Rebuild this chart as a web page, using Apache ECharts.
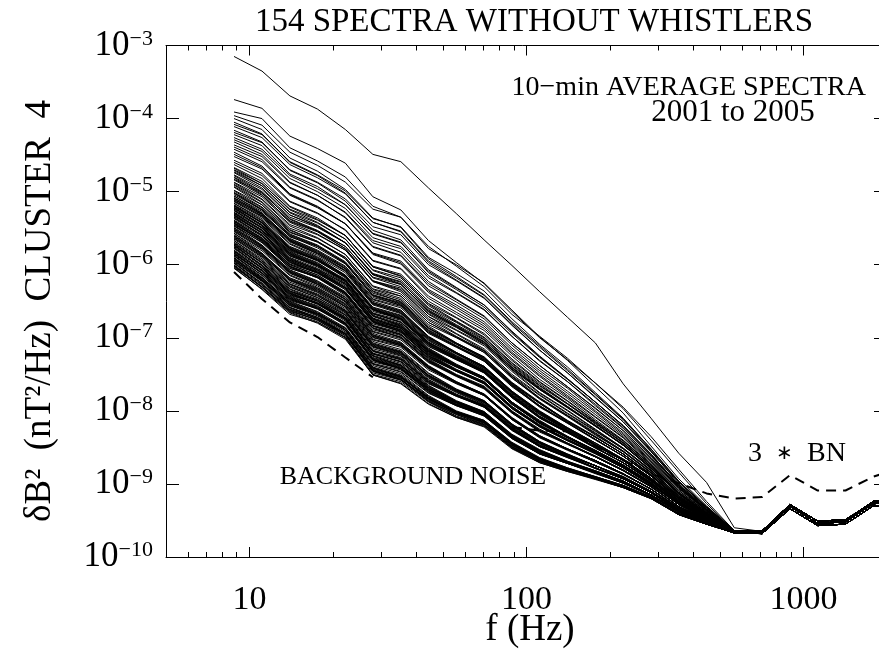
<!DOCTYPE html>
<html><head><meta charset="utf-8">
<script src="https://cdn.jsdelivr.net/npm/echarts@6/dist/echarts.min.js"></script>
<style>html,body{margin:0;padding:0;background:#fff}#c{width:879px;height:649px}</style>
</head><body><div id="c"></div><script>
const SERIF = '"Liberation Serif","Times New Roman",serif';

// third-octave frequencies (Hz)
const freqs = [8.8,11.1,14.0,17.6,22.2,27.9,35.2,44.3,55.8,70.3,88.6,111.6,140.6,177.2,223.3,281.3,354.4,446.5,562.5,708.7,893,1125,1417,1786,2250];
const majorX = [10,100,1000];
const minorX = [6,7,8,9,20,30,40,50,60,70,80,90,200,300,400,500,600,700,800,900];

// Spectra: each value = -100*log10(dB^2 in nT^2/Hz) at freqs[0..18]
const spectraTop = [
[315,335,369,387,415,449,459,495,530,566,601,637,672,707,763,810,858,898,960],
[374,386,424,441,461,507,525,567,597,626,664,700,730,762,795,835,880,924,964],
[391,400,440,458,480,520,535,575,602,630,668,698,728,762,797,840,884,927,964]
];
const spectraUpper = [
[463,482,520,536,560,603,615,654,677,699,734,763,790,816,843,876,912,939,965],
[460,478,514,530,552,594,605,643,665,687,722,753,781,809,837,872,909,938,965],
[457,475,513,529,553,595,606,646,668,690,725,757,783,812,840,873,911,938,965],
[452,469,505,522,544,584,595,634,655,678,714,745,773,802,832,868,905,936,965],
[449,467,504,521,544,585,597,636,658,681,717,748,776,805,834,869,907,937,965],
[446,465,503,520,544,586,599,638,661,684,720,751,779,808,836,870,909,938,965],
[442,459,495,512,535,575,587,626,648,671,707,738,767,797,827,865,904,936,965],
[439,456,494,511,536,576,588,629,651,674,710,742,769,800,830,866,906,936,965],
[436,452,488,505,528,567,578,618,639,662,698,732,760,793,824,862,903,935,965],
[432,449,487,505,529,570,583,623,647,670,707,738,767,796,827,864,905,936,964],
[429,445,482,500,523,563,575,615,638,661,698,731,760,791,823,861,903,935,964],
[426,442,478,496,518,558,570,609,632,655,692,726,756,788,820,859,902,935,964],
[422,437,476,493,518,557,569,611,634,658,694,727,757,788,821,860,901,933,964],
[419,433,470,487,510,548,559,600,622,646,682,717,748,781,815,856,898,932,964],
[416,432,471,488,513,553,566,607,631,655,691,725,756,788,820,859,902,934,964],
[411,426,463,481,503,542,554,595,618,642,680,713,745,778,812,854,897,932,964],
[408,422,459,477,499,537,548,590,612,636,674,709,740,775,810,852,896,931,964],
[405,421,460,478,502,542,555,597,621,645,683,717,748,782,815,855,900,933,964],
[400,415,454,472,497,536,549,592,616,641,678,711,743,777,811,852,897,932,964],
[396,409,446,464,487,524,535,578,600,625,662,699,731,767,803,848,893,930,964]
];
const spectraMid = [
[504,525,560,575,597,641,652,687,708,727,762,789,814,836,859,888,920,943,966],
[506,527,561,577,599,642,654,689,709,728,763,790,815,836,859,888,920,943,966],
[502,524,558,573,596,639,650,686,707,726,761,788,814,836,859,888,920,943,966],
[501,522,559,574,598,642,653,690,711,730,765,793,816,839,862,889,922,943,966],
[502,525,562,575,598,643,656,693,712,732,767,794,817,840,862,889,922,943,966],
[498,518,553,568,590,633,643,679,699,718,753,783,807,832,856,885,919,942,966],
[499,521,556,569,590,634,646,682,700,720,755,784,808,833,856,885,919,942,966],
[493,515,552,568,592,636,648,684,707,727,762,789,813,835,859,887,920,943,965],
[494,518,555,569,592,637,651,687,708,729,764,790,814,836,859,887,920,943,965],
[490,511,547,563,586,629,640,676,698,718,753,782,806,830,855,884,918,942,965],
[491,514,550,564,586,630,643,679,699,720,755,783,807,831,855,884,918,942,965],
[487,507,542,558,580,622,632,668,689,709,744,775,799,825,851,881,916,941,965],
[488,510,545,559,580,623,635,671,690,711,746,776,800,826,851,881,916,941,965],
[483,502,537,553,575,617,627,664,685,706,741,770,795,820,847,879,913,940,965],
[484,505,540,554,575,618,630,667,686,708,743,771,796,821,847,879,913,940,965],
[480,501,538,554,578,622,634,671,694,715,750,778,803,827,852,882,917,942,965],
[481,504,541,555,578,623,637,674,695,717,752,779,804,828,852,882,917,942,965],
[477,497,532,548,570,613,624,660,682,703,738,768,794,820,846,878,914,941,965],
[478,500,535,549,570,614,627,663,683,705,740,769,795,821,846,878,914,941,965],
[473,492,529,546,570,612,623,662,684,706,741,770,794,820,847,878,914,940,965],
[474,495,532,547,570,613,626,665,685,708,743,771,795,821,847,878,914,940,965],
[470,489,525,542,565,607,618,656,678,700,735,765,790,817,844,876,913,940,965],
[471,492,528,543,565,608,621,659,679,702,737,766,791,818,844,876,913,940,965],
[467,486,521,538,560,602,613,650,672,694,729,760,786,814,841,874,912,940,965],
[468,489,524,539,560,603,616,653,673,696,731,761,787,815,841,874,912,940,965]
];
const spectraCore = [
[545,567,602,616,638,683,693,725,745,761,795,820,839,857,877,901,928,947,966],
[547,569,603,618,640,684,695,727,746,762,796,821,840,857,877,901,928,947,966],
[543,566,600,614,637,681,691,724,744,760,794,819,839,857,877,901,928,947,966],
[546,570,605,617,638,684,696,728,746,763,797,821,840,858,877,901,928,947,966],
[542,565,602,616,640,686,697,730,751,767,801,826,844,862,881,903,931,948,966],
[544,567,603,618,642,687,699,732,752,768,802,827,845,862,881,903,931,948,966],
[540,564,600,614,639,684,695,729,750,766,800,825,844,862,881,903,931,948,966],
[543,568,605,617,640,687,700,733,752,769,803,827,845,863,881,903,931,948,966],
[539,561,596,610,632,677,687,719,739,755,789,816,835,855,875,899,928,947,966],
[541,563,597,612,634,678,689,721,740,756,790,817,836,855,875,899,928,947,966],
[537,560,594,608,631,675,685,718,738,754,788,815,835,855,875,899,928,947,966],
[540,564,599,611,632,678,690,722,740,757,791,817,836,856,875,899,928,947,966],
[534,557,594,609,632,678,689,723,744,761,795,821,840,858,878,901,928,947,966],
[536,559,595,611,634,679,691,725,745,762,796,822,841,858,878,901,928,947,966],
[532,556,592,607,631,676,687,722,743,760,794,820,840,858,878,901,928,947,966],
[535,560,597,610,632,679,692,726,745,763,797,822,841,859,878,901,928,947,966],
[531,554,590,605,627,673,684,717,738,755,789,816,836,855,875,899,927,947,966],
[533,556,591,607,629,674,686,719,739,756,790,817,837,855,875,899,927,947,966],
[529,553,588,603,626,671,682,716,737,754,788,815,836,855,875,899,927,947,966],
[532,557,593,606,627,674,687,720,739,757,791,817,837,856,875,899,927,947,966],
[528,550,585,600,621,666,676,709,729,746,780,809,829,850,871,896,925,946,966],
[530,552,586,602,623,667,678,711,730,747,781,810,830,850,871,896,925,946,966],
[526,549,583,598,620,664,674,708,728,745,779,808,829,850,871,896,925,946,966],
[529,553,588,601,621,667,679,712,730,748,782,810,830,851,871,896,925,946,966],
[524,547,584,599,623,669,681,715,737,755,789,814,835,854,874,898,927,947,966],
[526,549,585,601,625,670,683,717,738,756,790,815,836,854,874,898,927,947,966],
[522,546,582,597,622,667,679,714,736,754,788,813,835,854,874,898,927,947,966],
[525,550,587,600,623,670,684,718,738,757,791,815,836,855,874,898,927,947,966],
[521,543,578,593,615,660,671,704,725,743,777,804,826,847,868,894,924,946,966],
[523,545,579,595,617,661,673,706,726,744,778,805,827,847,868,894,924,946,966],
[519,542,576,591,614,658,669,703,724,742,776,803,826,847,868,894,924,946,966],
[522,546,581,594,615,661,674,707,726,745,779,805,827,848,868,894,924,946,966],
[518,540,577,592,616,661,672,707,728,746,780,808,828,850,871,895,926,946,966],
[520,542,578,594,618,662,674,709,729,747,781,809,829,850,871,895,926,946,966],
[516,539,575,590,615,659,670,706,727,745,779,807,828,850,871,895,926,946,966],
[519,543,580,593,616,662,675,710,729,748,782,809,829,851,871,895,926,946,966],
[514,535,571,587,609,654,665,700,721,740,774,801,823,844,866,892,922,945,966],
[516,537,572,589,611,655,667,702,722,741,775,802,824,844,866,892,922,945,966],
[512,534,569,585,608,652,663,699,720,739,773,800,823,844,866,892,922,945,966],
[511,531,566,582,603,647,657,692,712,731,765,794,816,839,862,889,920,944,966],
[513,533,567,584,605,648,659,694,713,732,766,795,817,839,862,889,920,944,966],
[509,530,564,580,602,645,655,691,711,730,764,793,816,839,862,889,920,944,966],
[508,530,567,583,606,652,664,699,721,740,774,802,824,846,867,892,924,946,966],
[510,532,568,585,608,653,666,701,722,741,775,803,825,846,867,892,924,946,966],
[506,529,565,581,605,650,662,698,720,739,773,801,824,846,867,892,924,946,966]
];
const spectraLower = [
[569,595,629,643,664,712,722,752,772,787,819,843,859,875,890,910,935,952,967],
[571,597,630,645,666,713,724,754,773,788,820,844,860,875,890,910,935,952,967],
[567,594,627,641,663,710,720,751,771,786,818,842,859,875,890,910,935,952,967],
[565,590,626,640,663,711,721,753,774,790,822,845,861,875,892,911,936,951,966],
[567,592,627,642,665,712,723,755,775,791,823,846,862,875,892,911,936,951,966],
[563,589,624,638,662,709,719,752,773,789,821,844,861,875,892,911,936,951,966],
[562,586,620,634,655,702,711,742,762,778,810,835,852,868,886,907,933,950,966],
[564,588,621,636,657,703,713,744,763,779,811,836,853,868,886,907,933,950,966],
[560,585,618,632,654,700,709,741,761,777,809,834,852,868,886,907,933,950,966],
[559,585,621,635,658,707,718,749,771,787,819,843,860,875,891,910,937,952,966],
[561,587,622,637,660,708,720,751,772,788,820,844,861,875,891,910,937,952,966],
[557,584,619,633,657,705,716,748,770,786,818,842,860,875,891,910,937,952,966],
[555,579,614,629,651,698,709,740,761,778,811,835,852,868,886,907,933,950,966],
[557,581,615,631,653,699,711,742,762,779,812,836,853,868,886,907,933,950,966],
[553,578,612,627,650,696,707,739,760,777,810,834,852,868,886,907,933,950,966],
[552,575,609,624,645,691,701,732,752,769,802,828,845,863,882,904,931,949,966],
[554,577,610,626,647,692,703,734,753,770,803,829,846,863,882,904,931,949,966],
[550,574,607,622,644,689,699,731,751,768,801,827,845,863,882,904,931,949,966],
[549,574,610,625,648,696,708,739,761,778,811,836,853,870,887,907,935,951,966],
[551,576,611,627,650,697,710,741,762,779,812,837,854,870,887,907,935,951,966],
[547,573,608,623,647,694,706,738,760,777,810,835,853,870,887,907,935,951,966]
];
const spectraBottom = [
[603,631,665,678,700,750,760,788,808,820,850,870,882,893,905,920,942,955,967],
[605,633,666,680,702,751,762,790,809,821,851,871,883,893,905,920,942,955,967],
[601,630,663,676,699,748,758,787,807,819,849,869,882,893,905,920,942,955,967],
[604,634,668,679,700,751,763,791,809,822,852,871,883,894,905,920,942,955,967],
[600,628,661,674,695,745,755,782,802,814,844,865,878,890,902,918,941,955,967],
[602,630,662,676,697,746,757,784,803,815,845,866,879,890,902,918,941,955,967],
[598,627,659,672,694,743,753,781,801,813,843,864,878,890,902,918,941,955,967],
[601,631,664,675,695,746,758,785,803,816,846,866,879,891,902,918,941,955,967],
[596,623,658,672,695,744,754,784,804,817,848,868,880,891,904,919,941,954,967],
[598,625,659,674,697,745,756,786,805,818,849,869,881,891,904,919,941,954,967],
[594,622,656,670,694,742,752,783,803,816,847,867,880,891,904,919,941,954,967],
[597,626,661,673,695,745,757,787,805,819,850,869,881,892,904,919,941,954,967],
[593,619,652,666,687,735,744,773,792,805,836,858,871,884,898,915,938,953,967],
[595,621,653,668,689,736,746,775,793,806,837,859,872,884,898,915,938,953,967],
[591,618,650,664,686,733,742,772,791,804,835,857,871,884,898,915,938,953,967],
[594,622,655,667,687,736,747,776,793,807,838,859,872,885,898,915,938,953,967],
[590,618,653,667,690,740,751,780,801,814,845,866,879,891,903,918,942,955,967],
[592,620,654,669,692,741,753,782,802,815,846,867,880,891,903,918,942,955,967],
[588,617,651,665,689,738,749,779,800,813,844,865,879,891,903,918,942,955,967],
[591,621,656,668,690,741,754,783,802,816,847,867,880,892,903,918,942,955,967],
[586,612,646,659,680,729,739,768,788,802,833,854,869,882,896,915,937,953,967],
[588,614,647,661,682,730,741,770,789,803,834,855,870,882,896,915,937,953,967],
[584,611,644,657,679,727,737,767,787,801,832,853,869,882,896,915,937,953,967],
[587,615,649,660,680,730,742,771,789,804,835,855,870,883,896,915,937,953,967],
[583,609,645,658,681,730,740,771,791,805,836,858,871,885,899,916,939,953,967],
[585,611,646,660,683,731,742,773,792,806,837,859,872,885,899,916,939,953,967],
[581,608,643,656,680,728,738,770,790,804,835,857,871,885,899,916,939,953,967],
[584,612,648,659,681,731,743,774,792,807,838,859,872,886,899,916,939,953,967],
[580,605,639,652,673,721,730,760,779,793,824,848,862,878,893,912,936,952,967],
[582,607,640,654,675,722,732,762,780,794,825,849,863,878,893,912,936,952,967],
[578,604,637,650,672,719,728,759,778,792,823,847,862,878,893,912,936,952,967],
[581,608,642,653,673,722,733,763,780,795,826,849,863,879,893,912,936,952,967],
[575,602,638,652,675,724,735,766,787,802,834,855,870,883,897,915,938,953,967],
[577,604,639,654,677,725,737,768,788,803,835,856,871,883,897,915,938,953,967],
[573,601,636,650,674,722,733,765,786,801,833,854,870,883,897,915,938,953,967],
[576,605,641,653,675,725,738,769,788,804,836,856,871,884,897,915,938,953,967],
[572,598,633,647,669,717,727,758,778,793,825,848,863,878,893,912,936,952,967],
[574,600,634,649,671,718,729,760,779,794,826,849,864,878,893,912,936,952,967],
[570,597,631,645,668,715,725,757,777,792,824,847,863,878,893,912,936,952,967],
[573,601,636,648,669,718,730,761,779,795,827,849,864,879,893,912,936,952,967]
];
// noise-floor part of the spectra at freqs[19..24]
const floorTails = [
[966,931,954,952,927,925],
[964,928,951,949,924,922],
[968,934,957,955,930,928],
[965,929,955,950,926,923]
];
// background noise (visible part, freqs[0..5]) and 3*BN (freqs[10..24])
const bnLow = [610,647,679,699,727,754];
const threeBn = [822,827,828,848,867,886,899,913,920,918,888,909,909,890,878];

const toPsd = c => Math.pow(10, -c / 100);

const spectraAll = spectraBottom.concat(spectraLower, spectraCore, spectraMid, spectraUpper, spectraTop);
const series = spectraAll.map((row, k) => ({
  type: 'line', showSymbol: false, symbol: 'none', silent: true, z: 2,
  lineStyle: { color: '#000', width: 1 },
  data: freqs.map((f, i) => [f, toPsd(i < row.length ? row[i] : floorTails[k % floorTails.length][i - row.length])])
}));
series.push({
  type: 'line', showSymbol: false, symbol: 'none', silent: true, z: 1,
  lineStyle: { color: '#000', width: 2, type: [10, 7] },
  data: bnLow.map((c, i) => [freqs[i], toPsd(c)])
});
series.push({
  type: 'line', showSymbol: false, symbol: 'none', silent: true, z: 3,
  lineStyle: { color: '#000', width: 2, type: [10, 7] },
  data: threeBn.map((c, i) => [freqs[i + 10], toPsd(c)])
});

const axisBlack = { color: '#000', width: 1 };
const logMin = Math.log10(5), logMax = Math.log10(2000);

const chart = echarts.init(document.getElementById('c'), null, { renderer: 'canvas' });
chart.setOption({
  animation: false,
  backgroundColor: '#fff',
  grid: { left: 166, right: -8, top: 45.5, bottom: 92, containLabel: false, outerBoundsMode: 'none' },
  xAxis: [
    { type: 'log', logBase: 10, min: 5, max: 2000, position: 'bottom',
      axisLine: { onZero: false, lineStyle: axisBlack },
      axisTick: { inside: true, length: 10, lineStyle: axisBlack },
      axisLabel: { margin: 26, fontFamily: SERIF, fontSize: 34, color: '#000',
        formatter: v => majorX.includes(Math.round(v)) ? String(Math.round(v)) : '' },
      splitLine: { show: false } },
    { type: 'value', min: logMin, max: logMax, position: 'bottom',
      axisLine: { show: false, onZero: false },
      axisTick: { inside: true, length: 5, lineStyle: axisBlack, customValues: minorX.map(v => Math.log10(v)) },
      axisLabel: { show: false }, splitLine: { show: false } },
    { type: 'log', logBase: 10, min: 5, max: 2000, position: 'top',
      axisLine: { onZero: false, lineStyle: axisBlack },
      axisTick: { inside: true, length: 10, lineStyle: axisBlack },
      axisLabel: { show: false }, splitLine: { show: false } },
    { type: 'value', min: logMin, max: logMax, position: 'top',
      axisLine: { show: false, onZero: false },
      axisTick: { inside: true, length: 5, lineStyle: axisBlack, customValues: minorX.map(v => Math.log10(v)) },
      axisLabel: { show: false }, splitLine: { show: false } }
  ],
  yAxis: [
    { type: 'log', logBase: 10, min: 1e-10, max: 1e-3, position: 'left',
      axisLine: { onZero: false, lineStyle: axisBlack },
      axisTick: { inside: true, length: 13, lineStyle: axisBlack },
      axisLabel: { margin: 13, color: '#000',
        formatter: v => '{b|10}{s|\u2212' + (-Math.round(Math.log10(v))) + '}',
        rich: {
          b: { fontFamily: SERIF, fontSize: 35, color: '#000', lineHeight: 35, verticalAlign: 'bottom', padding: [14, 0, 0, 0] },
          s: { fontFamily: SERIF, fontSize: 22, color: '#000', lineHeight: 22, verticalAlign: 'top' }
        } },
      splitLine: { show: false } },
    { type: 'log', logBase: 10, min: 1e-10, max: 1e-3, position: 'right',
      axisLine: { onZero: false, lineStyle: axisBlack },
      axisTick: { inside: true, length: 13, lineStyle: axisBlack },
      axisLabel: { show: false }, splitLine: { show: false } }
  ],
  graphic: [
    { type: 'text', x: 534, y: 22, silent: true, style: { text: '154 SPECTRA WITHOUT WHISTLERS', fontFamily: SERIF, fontSize: 33, fill: '#000', align: 'center', verticalAlign: 'middle' } },
    { type: 'text', x: 866, y: 88, silent: true, style: { text: '10\u2212min AVERAGE SPECTRA', fontFamily: SERIF, fontSize: 28, fill: '#000', align: 'right', verticalAlign: 'middle' } },
    { type: 'text', x: 733, y: 113, silent: true, style: { text: '2001 to 2005', fontFamily: SERIF, fontSize: 31, fill: '#000', align: 'center', verticalAlign: 'middle' } },
    { type: 'text', x: 413, y: 477, silent: true, style: { text: 'BACKGROUND NOISE', fontFamily: SERIF, fontSize: 26, fill: '#000', align: 'center', verticalAlign: 'middle' } },
    { type: 'text', x: 797, y: 454, silent: true, style: {
        text: '{t|3  }{a|\u2217}{t|  BN}', align: 'center', verticalAlign: 'middle',
        rich: { t: { fontFamily: SERIF, fontSize: 28, fill: '#000', lineHeight: 30, verticalAlign: 'middle' },
                a: { fontFamily: SERIF, fontSize: 20, fill: '#000', lineHeight: 30, verticalAlign: 'middle' } } } },
    { type: 'text', x: 530, y: 630, silent: true, style: { text: 'f (Hz)', fontFamily: SERIF, fontSize: 37, fill: '#000', align: 'center', verticalAlign: 'middle' } },
    { type: 'text', x: 40, y: 311, rotation: Math.PI / 2, silent: true, style: { text: '\u03b4B\u00b2  (nT\u00b2/Hz)  CLUSTER  4', fontFamily: SERIF, fontSize: 37, fill: '#000', align: 'center', verticalAlign: 'middle' } }
  ],
  series: series
});
</script></body></html>
